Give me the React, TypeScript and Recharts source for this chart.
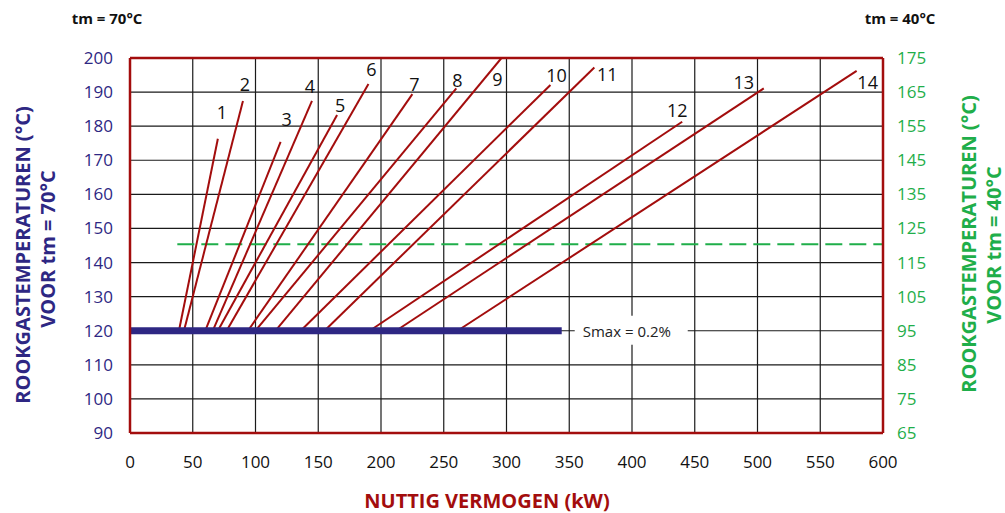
import React from 'react';
import {
  LineChart,
  Line,
  XAxis,
  YAxis,
  CartesianGrid,
  ReferenceLine,
} from 'recharts';

// curves 1..14: each starts on the 120 °C line and runs up to its end point
const curveIds = ['1', '2', '3', '4', '5', '6', '7', '8', '9', '10', '11', '12', '13', '14'];
const curveStartKw = [39, 43, 60, 66, 70, 77, 94, 100, 116, 136, 155, 191, 212, 261];
const curveEndKw = [70, 90, 120, 145, 165, 190, 225, 260, 296, 335, 370, 440, 505, 579];
const curveEndTemp = [176.3, 187.4, 175.4, 187.4, 183.3, 192.4, 189.4, 191.1, 200, 192.1, 197.2, 181.3, 191.1, 196.2];
const baseTemp = 120;

// Smax line (left axis)
const smaxKw = [0, 344];
const smaxLabel = 'Smax = 0.2%';

// green dashed line (right axis, tm = 40°C)
const dashedKw = [37.7, 600];
const dashedTempRight = 120.4;

const xTicks = [0, 50, 100, 150, 200, 250, 300, 350, 400, 450, 500, 550, 600];
const leftTicks = [90, 100, 110, 120, 130, 140, 150, 160, 170, 180, 190, 200];
const rightTicks = [65, 75, 85, 95, 105, 115, 125, 135, 145, 155, 165, 175];

// label placement relative to each curve's end point (px)
const curveLabelOffsets = [
  [4, -27], [2, -17], [6, -23], [-2, -15], [3, -10], [3, -15], [2, -10],
  [1, -8], [-4, 21], [6, -10], [13, 6], [-5, -12], [-20, -6], [11, 11],
];

const W = 1005;
const H = 513;
const FONT = '"Open Sans", "Noto Sans", sans-serif';
const RED = '#a30d0d';
const NAVY = '#2e2783';
const GREEN = '#1fae4a';

const curves = curveIds.map((id, i) => ({
  id,
  points: [
    { kw: curveStartKw[i], t: baseTemp },
    { kw: curveEndKw[i], t: curveEndTemp[i] },
  ],
}));

const smaxData = smaxKw.map((kw) => ({ kw, t: baseTemp }));
const dashedData = dashedKw.map((kw) => ({ kw, t: dashedTempRight }));

const curveLabel = (i: number) => (props: any) => {
  if (props.index !== 1) return <g />;
  const x = props.x ?? props.viewBox?.x;
  const y = props.y ?? props.viewBox?.y;
  const [dx, dy] = curveLabelOffsets[i];
  return (
    <text
      x={x + dx}
      y={y + dy}
      textAnchor="middle"
      dominantBaseline="central"
      fontSize={18}
      fontFamily={FONT}
      fill="#111"
    >
      {curveIds[i]}
    </text>
  );
};

const smaxLabelContent = (props: any) => {
  if (props.index !== 1) return <g />;
  const x = props.x ?? props.viewBox?.x;
  const y = props.y ?? props.viewBox?.y;
  return (
    <g>
      <rect x={x + 13} y={y - 15} width={113} height={29} fill="#fff" />
      <text
        x={x + 21}
        y={y}
        dominantBaseline="central"
        fontSize={15}
        fontFamily={FONT}
        fill="#222"
      >
        {smaxLabel}
      </text>
    </g>
  );
};

const LeftTitle = () => (
  <g fontFamily={FONT} fontWeight={700}>
    <text x={107} y={18} textAnchor="middle" dominantBaseline="central" fontSize={15} fill="#111">
      tm = 70°C
    </text>
    <text
      transform="translate(22,255) rotate(-90)"
      textAnchor="middle"
      dominantBaseline="central"
      fontSize={20}
      fill={NAVY}
    >
      ROOKGASTEMPERATUREN (°C)
    </text>
    <text
      transform="translate(47,249) rotate(-90)"
      textAnchor="middle"
      dominantBaseline="central"
      fontSize={20}
      fill={NAVY}
    >
      VOOR tm = 70°C
    </text>
  </g>
);

const RightTitle = () => (
  <g fontFamily={FONT} fontWeight={700}>
    <text x={900} y={18} textAnchor="middle" dominantBaseline="central" fontSize={15} fill="#111">
      tm = 40°C
    </text>
    <text
      transform="translate(968,244) rotate(-90)"
      textAnchor="middle"
      dominantBaseline="central"
      fontSize={20}
      fill={GREEN}
    >
      ROOKGASTEMPERATUREN (°C)
    </text>
    <text
      transform="translate(993,245) rotate(-90)"
      textAnchor="middle"
      dominantBaseline="central"
      fontSize={20}
      fill={GREEN}
    >
      VOOR tm = 40°C
    </text>
  </g>
);

const BottomTitle = () => (
  <text
    x={487}
    y={500}
    textAnchor="middle"
    dominantBaseline="central"
    fontFamily={FONT}
    fontWeight={700}
    fontSize={20}
    fill={RED}
  >
    NUTTIG VERMOGEN (kW)
  </text>
);

export default function App() {
  return (
    <div style={{ position: 'absolute', left: 0, top: 0, width: W, height: H, background: '#fff' }}>
      <LineChart width={W} height={H} margin={{ top: 58, right: 0, left: 0, bottom: 0 }}>
        <CartesianGrid stroke="#1a1a1a" strokeWidth={1.2} />
        <XAxis
          dataKey="kw"
          type="number"
          domain={[0, 600]}
          ticks={xTicks}
          height={80}
          tickSize={0}
          tickMargin={23}
          tickLine={false}
          axisLine={{ stroke: RED, strokeWidth: 2.5 }}
          tick={{ fill: '#111', fontSize: 17, fontFamily: FONT }}
          label={<BottomTitle />}
        />
        <YAxis
          type="number"
          domain={[90, 200]}
          ticks={leftTicks}
          width={130}
          tickSize={0}
          tickMargin={17}
          tickLine={false}
          allowDataOverflow
          axisLine={{ stroke: RED, strokeWidth: 2.5 }}
          tick={{ fill: NAVY, fontSize: 17, fontFamily: FONT }}
          label={<LeftTitle />}
        />
        <YAxis
          yAxisId="right"
          orientation="right"
          type="number"
          domain={[65, 175]}
          ticks={rightTicks}
          width={122}
          tickSize={0}
          tickMargin={14}
          tickLine={false}
          allowDataOverflow
          axisLine={{ stroke: RED, strokeWidth: 2.5 }}
          tick={{ fill: GREEN, fontSize: 17, fontFamily: FONT }}
          label={<RightTitle />}
        />
        <ReferenceLine y={200} stroke={RED} strokeWidth={2.5} />
        <Line
          yAxisId="right"
          data={dashedData}
          dataKey="t"
          type="linear"
          stroke={GREEN}
          strokeWidth={2}
          strokeDasharray="17 7"
          dot={false}
          activeDot={false}
          isAnimationActive={false}
        />
        {curves.map((c, i) => (
          <Line
            key={c.id}
            data={c.points}
            dataKey="t"
            type="linear"
            stroke={RED}
            strokeWidth={2}
            dot={false}
            activeDot={false}
            isAnimationActive={false}
            label={curveLabel(i)}
          />
        ))}
        <Line
          data={smaxData}
          dataKey="t"
          type="linear"
          stroke={NAVY}
          strokeWidth={7}
          dot={false}
          activeDot={false}
          isAnimationActive={false}
          label={smaxLabelContent}
        />
      </LineChart>
    </div>
  );
}
